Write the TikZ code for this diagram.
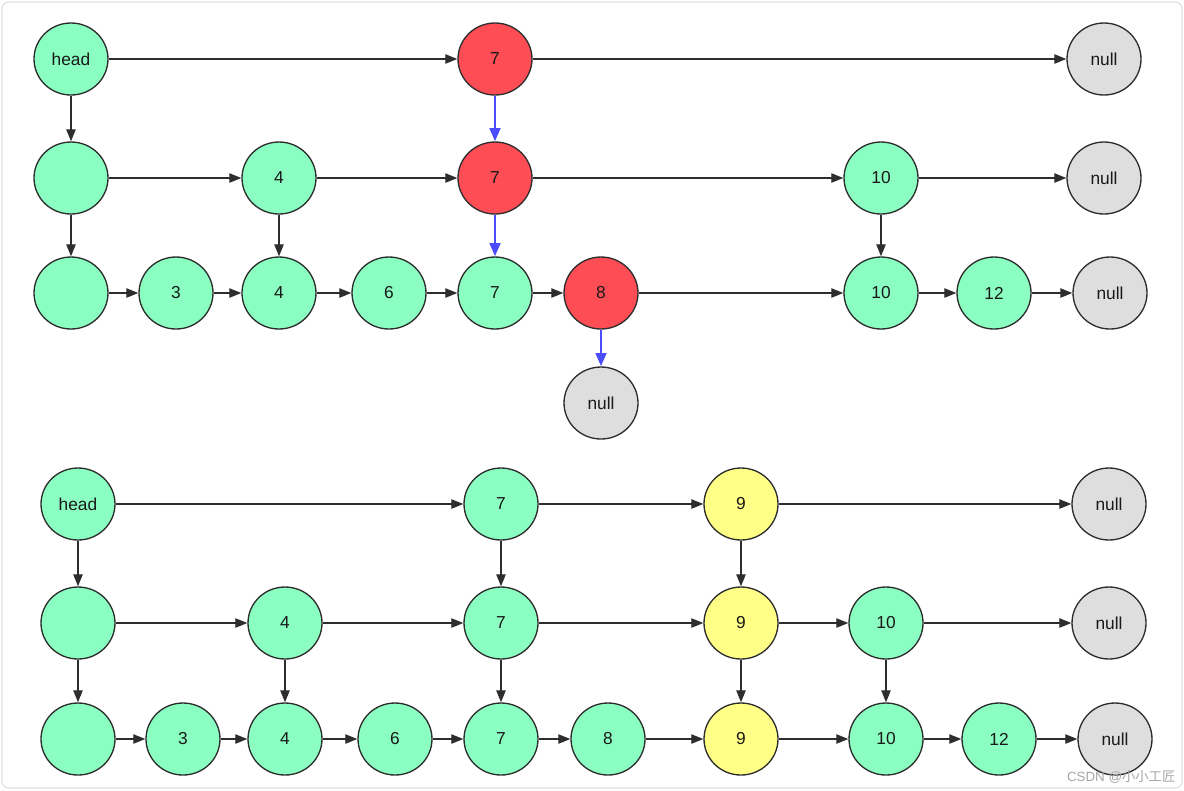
\documentclass[tikz,border=0pt]{standalone}
\usepackage{fontspec}
\setmainfont{Liberation Sans}
\newfontfamily\cjkfont{Noto Sans CJK SC}
\usepackage{tikz}
\usetikzlibrary{shapes.geometric,arrows.meta}

\definecolor{nodegreen}{RGB}{138,255,193}
\definecolor{nodered}{RGB}{255,77,85}
\definecolor{nodeyellow}{RGB}{255,255,136}
\definecolor{nodegray}{RGB}{222,222,222}
\definecolor{linegray}{RGB}{45,45,45}
\definecolor{searchblue}{RGB}{76,76,255}

\begin{document}
\begin{tikzpicture}[x=0.75pt,y=-0.75pt,->,>={Triangle[length=9pt,width=7pt]},line width=0.9pt,linegray,
	roundnode/.style={ellipse,draw=linegray,line width=1pt,minimum width=55.5pt,minimum height=54pt,inner sep=0pt,text=black!90,font=\fontsize{13}{15}\selectfont},
	gnode/.style={roundnode,fill=nodegreen},
	rnode/.style={roundnode,fill=nodered},
	ynode/.style={roundnode,fill=nodeyellow},
	nnode/.style={roundnode,fill=nodegray},
	searchline/.style={searchblue,line width=2pt,>={Triangle[length=10pt,width=8pt]}}]

	\useasboundingbox (0,0) rectangle (1184,790);
	\draw[-,rounded corners=5pt,draw=black!12] (2,2) rectangle (1182,788);

	% upper list: search path for 8
	\node [gnode] (th) at (71, 59) {head};
	\node [rnode] (t17) at (495, 59) {7};
	\node [nnode] (t1n) at (1104, 59) {null};

	\node [gnode] (t2h) at (71, 178) {};
	\node [gnode] (t24) at (279, 178) {4};
	\node [rnode] (t27) at (495, 178) {7};
	\node [gnode] (t210) at (881, 178) {10};
	\node [nnode] (t2n) at (1104, 178) {null};

	\node [gnode] (t3h) at (71, 293) {};
	\node [gnode] (t33) at (176, 293) {3};
	\node [gnode] (t34) at (279, 293) {4};
	\node [gnode] (t36) at (389, 293) {6};
	\node [gnode] (t37) at (495, 293) {7};
	\node [rnode] (t38) at (601, 293) {8};
	\node [gnode] (t310) at (881, 293) {10};
	\node [gnode] (t312) at (994, 293) {12};
	\node [nnode] (t3n) at (1110, 293) {null};
	\node [nnode] (t8n) at (601, 403) {null};

	\draw (th) to (t17);
	\draw (t17) to (t1n);
	\draw (th) to (t2h);
	\draw (t2h) to (t24);
	\draw (t24) to (t27);
	\draw (t27) to (t210);
	\draw (t210) to (t2n);
	\draw (t2h) to (t3h);
	\draw (t24) to (t34);
	\draw (t210) to (t310);
	\draw (t3h) to (t33);
	\draw (t33) to (t34);
	\draw (t34) to (t36);
	\draw (t36) to (t37);
	\draw (t37) to (t38);
	\draw (t38) to (t310);
	\draw (t310) to (t312);
	\draw (t312) to (t3n);

	\draw[searchline] (t17) to (t27);
	\draw[searchline] (t27) to (t37);
	\draw[searchline] (t38) to (t8n);

	% lower list: after inserting 9
	\node [gnode] (bh) at (78, 504) {head};
	\node [gnode] (b17) at (501, 504) {7};
	\node [ynode] (b19) at (741, 504) {9};
	\node [nnode] (b1n) at (1109, 504) {null};

	\node [gnode] (b2h) at (78, 623) {};
	\node [gnode] (b24) at (285, 623) {4};
	\node [gnode] (b27) at (501, 623) {7};
	\node [ynode] (b29) at (741, 623) {9};
	\node [gnode] (b210) at (886, 623) {10};
	\node [nnode] (b2n) at (1109, 623) {null};

	\node [gnode] (b3h) at (78, 739) {};
	\node [gnode] (b33) at (183, 739) {3};
	\node [gnode] (b34) at (285, 739) {4};
	\node [gnode] (b36) at (395, 739) {6};
	\node [gnode] (b37) at (501, 739) {7};
	\node [gnode] (b38) at (608, 739) {8};
	\node [ynode] (b39) at (741, 739) {9};
	\node [gnode] (b310) at (886, 739) {10};
	\node [gnode] (b312) at (999, 739) {12};
	\node [nnode] (b3n) at (1115, 739) {null};

	\draw (bh) to (b17);
	\draw (b17) to (b19);
	\draw (b19) to (b1n);
	\draw (bh) to (b2h);
	\draw (b17) to (b27);
	\draw (b19) to (b29);
	\draw (b2h) to (b24);
	\draw (b24) to (b27);
	\draw (b27) to (b29);
	\draw (b29) to (b210);
	\draw (b210) to (b2n);
	\draw (b2h) to (b3h);
	\draw (b24) to (b34);
	\draw (b27) to (b37);
	\draw (b29) to (b39);
	\draw (b210) to (b310);
	\draw (b3h) to (b33);
	\draw (b33) to (b34);
	\draw (b34) to (b36);
	\draw (b36) to (b37);
	\draw (b37) to (b38);
	\draw (b38) to (b39);
	\draw (b39) to (b310);
	\draw (b310) to (b312);
	\draw (b312) to (b3n);

	\node [anchor=east,inner sep=0pt,text=black!35,font=\fontsize{10}{12}\selectfont] (mark) at (1176, 777) {CSDN @{\cjkfont 小小工匠}};
\end{tikzpicture}
\end{document}
